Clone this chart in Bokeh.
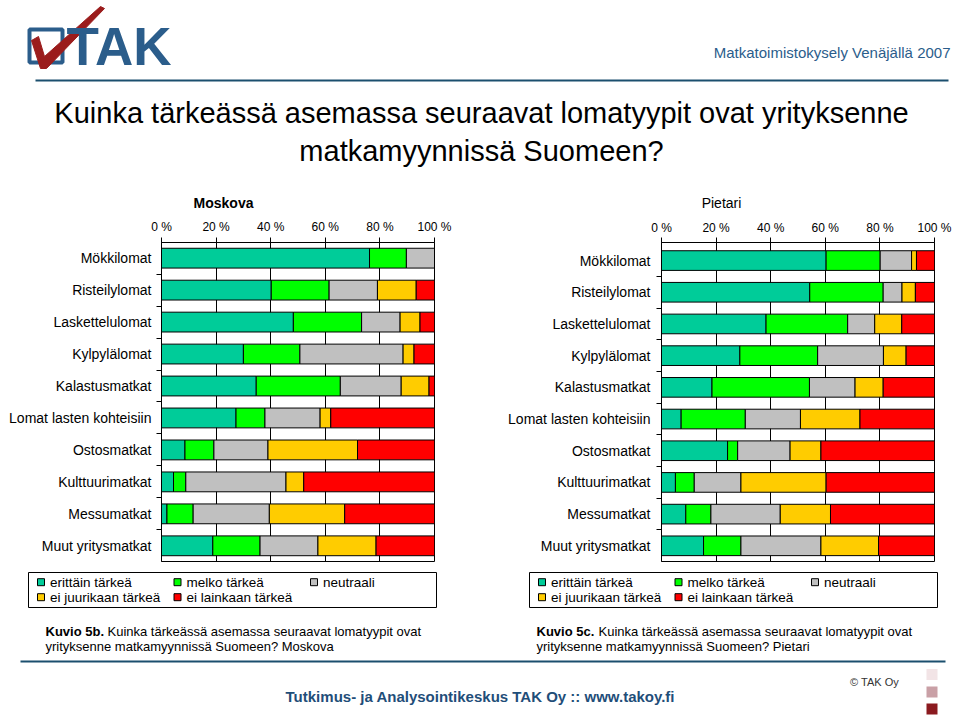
from bokeh.plotting import figure
from bokeh.layouts import column, row
from bokeh.models import ColumnDataSource, Range1d, FixedTicker
from bokeh.embed import file_html
from bokeh.resources import INLINE
from bokeh.core.properties import value

# ---------------- data ----------------
categories = ["Mökkilomat", "Risteilylomat", "Laskettelulomat", "Kylpylälomat",
              "Kalastusmatkat", "Lomat lasten kohteisiin", "Ostosmatkat",
              "Kulttuurimatkat", "Messumatkat", "Muut yritysmatkat"]
series_names = ["erittäin tärkeä", "melko tärkeä", "neutraali",
                "ei juurikaan tärkeä", "ei lainkaan tärkeä"]
series_colors = ["#00CC99", "#00FF00", "#C0C0C0", "#FFCC00", "#FF0000"]
x_ticks = [0, 20, 40, 60, 80, 100]
x_tick_labels = ["0 %", "20 %", "40 %", "60 %", "80 %", "100 %"]

moskova_erittain = [76.2, 40.2, 48.3, 30.0, 34.7, 27.3, 8.6, 4.4, 2.0, 18.8]
moskova_melko = [13.5, 21.2, 25.0, 20.7, 30.8, 10.6, 10.6, 4.5, 9.6, 17.3]
moskova_neutraali = [10.3, 17.7, 14.1, 37.8, 22.3, 20.2, 19.8, 36.7, 27.9, 21.2]
moskova_ei_juurikaan = [0.0, 14.2, 7.3, 4.0, 10.2, 3.9, 32.8, 6.5, 27.6, 21.3]
moskova_ei_lainkaan = [0.0, 6.7, 5.3, 7.5, 2.0, 38.0, 28.2, 47.9, 32.9, 21.4]

pietari_erittain = [60.3, 54.3, 38.3, 28.7, 18.5, 7.2, 24.2, 5.1, 8.9, 15.4]
pietari_melko = [19.8, 26.9, 29.9, 28.5, 35.7, 23.5, 3.7, 6.9, 9.2, 13.7]
pietari_neutraali = [11.5, 6.9, 9.9, 24.1, 16.7, 20.2, 19.2, 17.1, 25.4, 29.3]
pietari_ei_juurikaan = [1.8, 4.9, 9.9, 8.3, 10.3, 21.8, 11.3, 31.2, 18.4, 21.1]
pietari_ei_lainkaan = [6.6, 7.0, 12.0, 10.4, 18.8, 27.3, 41.6, 39.7, 38.1, 20.5]

FONT_NAME = "Liberation Sans"
FONT = value(FONT_NAME)
BLUE = "#2b5d8b"
LINE_BLUE = "#1b4f6e"

HDR_H = 211
CHART_H = 355
FTR_H = 719 - HDR_H - CHART_H
FRAME_TOP = 242
FRAME_H = 319

n = len(categories)
ypos = [n - 0.5 - i for i in range(n)]
keys = ["s%d" % k for k in range(len(series_names))]


def make_chart(vals, b_left, b_right, y_start, y_end, y_standoff, x_standoff):
    data = dict(y=ypos)
    for k, v in zip(keys, vals):
        data[k] = v
    src = ColumnDataSource(data)
    b_top = FRAME_TOP - HDR_H
    p = figure(width=480, height=CHART_H, output_backend="svg", toolbar_location=None,
               x_range=Range1d(0, 100), y_range=Range1d(y_start, y_end),
               x_axis_location="above",
               min_border_left=b_left, min_border_right=b_right,
               min_border_top=b_top, min_border_bottom=CHART_H - b_top - FRAME_H,
               outline_line_color="black", outline_line_width=1,
               background_fill_color="white", border_fill_color="white")
    p.hbar_stack(keys, y="y", height=0.62, fill_color=series_colors,
                 line_color="black", line_width=1, source=src)
    xt = FixedTicker(ticks=x_ticks, minor_ticks=[])
    xa = p.xaxis[0]
    xa.ticker = xt
    xa.major_label_overrides = {t: l for t, l in zip(x_ticks, x_tick_labels)}
    xa.major_tick_out = 5
    xa.major_tick_in = 0
    xa.minor_tick_out = 0
    xa.minor_tick_in = 0
    xa.major_label_standoff = x_standoff
    xa.major_label_text_font = FONT_NAME
    xa.major_label_text_font_size = "12px"
    xa.major_label_text_color = "black"
    xa.axis_line_color = "black"
    xa.major_tick_line_color = "black"

    ya = p.yaxis[0]
    ya.ticker = FixedTicker(ticks=ypos, minor_ticks=list(range(1, n)))
    ya.major_label_overrides = {y: c for y, c in zip(ypos, categories)}
    ya.major_tick_out = 0
    ya.major_tick_in = 0
    ya.minor_tick_out = 5
    ya.minor_tick_in = 0
    ya.minor_tick_line_color = "black"
    ya.major_label_standoff = y_standoff
    ya.major_label_text_font = FONT_NAME
    ya.major_label_text_font_size = "14px"
    ya.major_label_text_color = "black"
    ya.axis_line_color = "black"

    p.xgrid.ticker = xt
    p.xgrid.grid_line_color = "black"
    p.xgrid.grid_line_alpha = 1.0
    p.ygrid.visible = False
    return p


left = make_chart([moskova_erittain, moskova_melko, moskova_neutraali,
                   moskova_ei_juurikaan, moskova_ei_lainkaan],
                  161, 46, 0.009, 9.99, 5, 4)
right = make_chart([pietari_erittain, pietari_melko, pietari_neutraali,
                    pietari_ei_juurikaan, pietari_ei_lainkaan],
                   181, 26, 0.005, 10.07, 6, 3)


def canvas(w, h):
    p = figure(width=w, height=h, x_range=Range1d(0, w), y_range=Range1d(h, 0),
               output_backend="svg", toolbar_location=None, min_border=0,
               x_axis_type=None, y_axis_type=None, outline_line_color=None,
               background_fill_color="white", border_fill_color="white")
    return p


# ---------------- header (page pixel coordinates) ----------------
hdr = canvas(960, HDR_H)
hdr.rect(x=[45.5], y=[45.5], width=[33], height=[33], fill_color="white",
         line_color=BLUE, line_width=4)
hdr.patch(x=[31, 38, 44, 100, 104, 46, 40], y=[40, 36, 56, 6, 8, 68, 68],
          fill_color="#9b1c1c", line_color="#9b1c1c", line_width=1)
hdr.text(x=[66], y=[46], text=["TAK"], text_font=FONT, text_font_style="bold",
         text_font_size="53px", text_color=BLUE, text_align="left",
         text_baseline="middle")
hdr.text(x=[950], y=[52], text=["Matkatoimistokysely Venäjällä 2007"],
         text_font=FONT, text_font_size="15px", text_color=BLUE,
         text_align="right", text_baseline="middle")
hdr.line(x=[35, 948], y=[80, 80], line_color=LINE_BLUE, line_width=2)
hdr.text(x=[481, 481], y=[112, 150],
         text=["Kuinka tärkeässä asemassa seuraavat lomatyypit ovat yrityksenne",
               "matkamyynnissä Suomeen?"],
         text_font=FONT, text_font_size="29px", text_color="black",
         text_align="center", text_baseline="middle")
hdr.text(x=[223], y=[202], text=["Moskova"], text_font=FONT,
         text_font_style="bold", text_font_size="14px", text_color="black",
         text_align="center", text_baseline="middle")
hdr.text(x=[721], y=[202], text=["Pietari"], text_font=FONT,
         text_font_size="14px", text_color="black",
         text_align="center", text_baseline="middle")

# ---------------- footer (page x, page y - Y0) ----------------
ftr = canvas(960, FTR_H)
Y0 = HDR_H + CHART_H
for off in (0, 501):
    ftr.rect(x=[232 + off], y=[589.5 - Y0], width=[408], height=[35],
             fill_color=None, line_color="black", line_width=1)
    sx, sy = [], []
    for i, name in enumerate(series_names):
        col, rw = i % 3, i // 3
        sx.append(40.5 + off + col * 136.5)
        sy.append(581.7 - Y0 + rw * 15)
    ftr.rect(x=sx, y=sy, width=7, height=7, fill_color=series_colors,
             line_color="black", line_width=1)
    ftr.text(x=[v + 9 for v in sx], y=sy, text=series_names, text_font=FONT,
             text_font_size="13.5px", text_color="black", text_align="left",
             text_baseline="middle")

captions = [("Kuvio 5b.", "Kuinka tärkeässä asemassa seuraavat lomatyypit ovat",
             "yrityksenne matkamyynnissä Suomeen? Moskova", 45),
            ("Kuvio 5c.", "Kuinka tärkeässä asemassa seuraavat lomatyypit ovat",
             "yrityksenne matkamyynnissä Suomeen? Pietari", 536)]
for bold, rest, line2, cx in captions:
    ftr.text(x=[cx], y=[630.7 - Y0], text=[bold], text_font=FONT,
             text_font_style="bold", text_font_size="13px", text_color="black",
             text_align="left", text_baseline="middle")
    ftr.text(x=[cx + 62], y=[630.7 - Y0], text=[rest], text_font=FONT,
             text_font_size="13px", text_color="black", text_align="left",
             text_baseline="middle")
    ftr.text(x=[cx], y=[646 - Y0], text=[line2], text_font=FONT,
             text_font_size="13px", text_color="black", text_align="left",
             text_baseline="middle")

ftr.line(x=[20, 945], y=[661 - Y0, 661 - Y0], line_color=LINE_BLUE, line_width=2)
ftr.text(x=[484], y=[696 - Y0], text=["Tutkimus- ja Analysointikeskus TAK Oy  ::  www.takoy.fi"],
         text_font=FONT, text_font_style="bold", text_font_size="15px",
         text_color="#1f4e79", text_align="center", text_baseline="middle")
ftr.text(x=[874], y=[681 - Y0], text=["© TAK Oy"], text_font=FONT,
         text_font_size="11px", text_color="#333333", text_align="center",
         text_baseline="middle")
ftr.rect(x=[931.5, 931.5, 931.5], y=[674 - Y0, 691.5 - Y0, 708.5 - Y0],
         width=11, height=11,
         fill_color=["#f2e4e6", "#c9a0a6", "#8b1a1f"], line_color=None)

layout = column(hdr, row(left, right), ftr)
open("out.html", "w").write(file_html(layout, INLINE))
